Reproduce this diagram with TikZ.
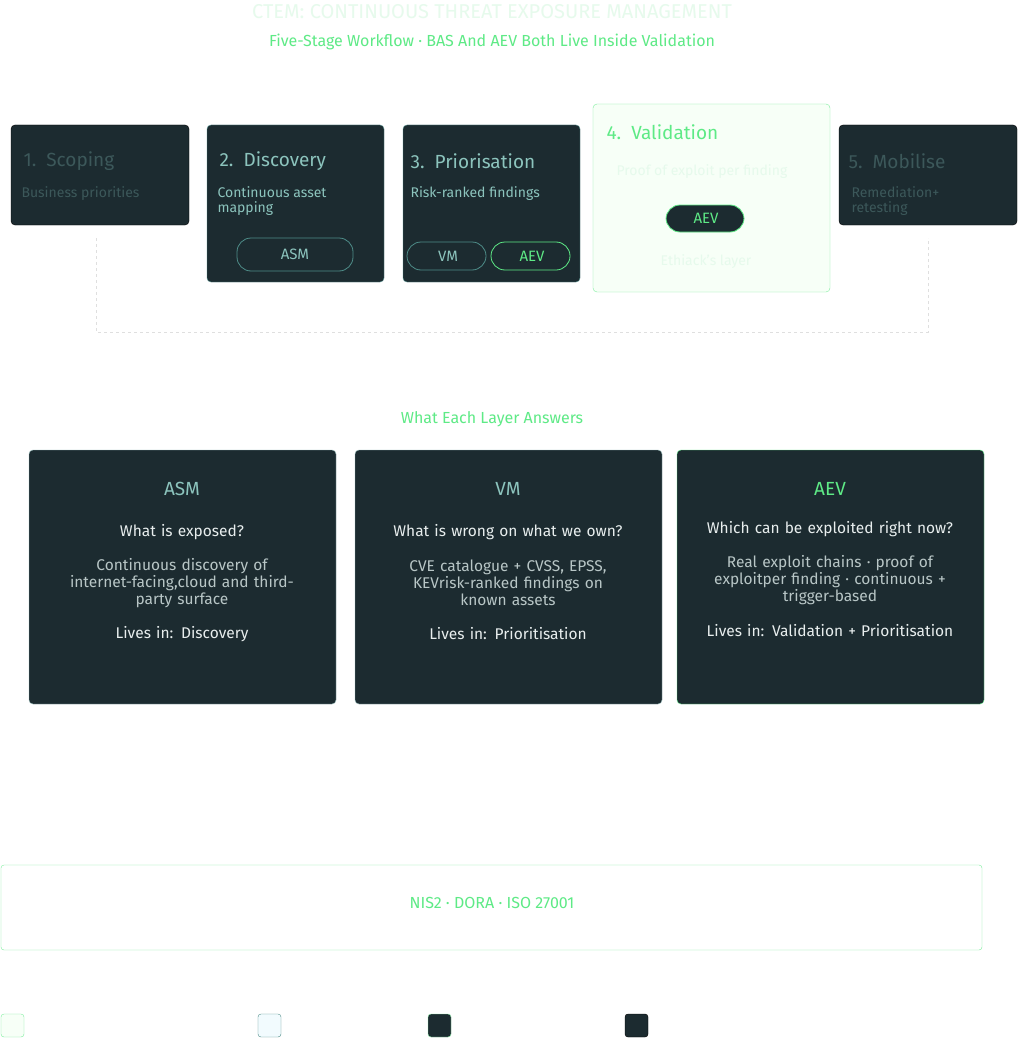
\documentclass[tikz,border=0pt]{standalone}
\usepackage{fontspec}
\setmainfont{Fira Sans}[Scale=1]
\begin{document}
\definecolor{dk}{HTML}{1C2B30}
\definecolor{tl}{HTML}{4E8C88}
\definecolor{tltx}{HTML}{8CC4BD}
\definecolor{gr}{HTML}{5EEA86}
\definecolor{faint}{HTML}{3C585A}
\definecolor{pale}{HTML}{E6FAEC}
\definecolor{wt}{HTML}{E8EEEE}
\definecolor{gy}{HTML}{B8C6C6}
\begin{tikzpicture}[x=1pt,y=-1pt,
  box/.style={rounded corners=4pt,fill=dk},
  pill/.style={rounded corners=14pt,line width=0.8pt},
  ttl/.style={anchor=west,font=\fontsize{19}{22}\selectfont},
  sub/.style={anchor=north west,align=left,font=\fontsize{14}{15}\selectfont},
  ctr/.style={align=center,text width=270pt,font=\fontsize{15.5}{17}\selectfont}]
\useasboundingbox[fill=white] (0,0) rectangle (1017,1038);
\node[text=pale,font=\fontsize{20}{22}\selectfont] (title) at (492,12) {CTEM: CONTINUOUS THREAT EXPOSURE MANAGEMENT};
\node[text=gr,font=\fontsize{16}{18}\selectfont] (subtitle) at (492,42) {Five-Stage Workflow · BAS And AEV Both Live Inside Validation};
% dashed loop
\draw[gray!25,dashed,line width=1pt] (96,238) -- (96,332) -- (928,332) -- (928,238);
% stage 1
\draw[box] (11,125) rectangle (189,225);
\node[ttl,text=faint] (s1) at (20,161) {1.\ \ Scoping};
\node[sub,text=faint] (s1d) at (18,183) {Business priorities};
% stage 2
\draw[box,draw=tl] (207,125) rectangle (384,282);
\node[ttl,text=tltx] (s2) at (216,161) {2.\ \ Discovery};
\node[sub,text=tltx] (s2d) at (214,183) {Continuous asset\\mapping};
\draw[pill,draw=tl] (237,238) rectangle (353,271);
\node[text=tltx,font=\fontsize{15}{17}\selectfont] (asm) at (295,254) {ASM};
% stage 3
\draw[box,draw=tl] (403,125) rectangle (580,282);
\node[ttl,text=tltx] (s3) at (407,161) {3.\ \ Priorisation};
\node[sub,text=tltx] (s3d) at (407,183) {Risk-ranked findings};
\draw[pill,draw=tl] (407,242) rectangle (486,270);
\node[text=tltx,font=\fontsize{15}{17}\selectfont] (vm) at (448,256) {VM};
\draw[pill,draw=gr] (491,242) rectangle (570,270);
\node[text=gr,font=\fontsize{15}{17}\selectfont] (aev3) at (532,256) {AEV};
% stage 4
\draw[rounded corners=4pt,fill=green!50!white!6,draw=gr!80] (593,104) rectangle (830,292);
\node[ttl,text=gr] (s4) at (603,132) {4.\ \ Validation};
\node[text=pale,font=\fontsize{14}{16}\selectfont] (s4d) at (702,172) {Proof of exploit per finding};
\draw[pill,fill=dk,draw=gr] (666,205) rectangle (744,232);
\node[text=gr,font=\fontsize{15}{17}\selectfont] (aev4) at (706,218) {AEV};
\node[text=pale,font=\fontsize{14}{16}\selectfont] (s4e) at (706,262) {Ethiack's layer};
% stage 5
\draw[box] (839,125) rectangle (1017,225);
\node[ttl,text=faint] (s5) at (845,161) {5.\ \ Mobilise};
\node[sub,text=faint] (s5d) at (848,183) {Remediation+\\retesting};
% section
\node[text=gr,font=\fontsize{16}{18}\selectfont] (sec) at (492,419) {What Each Layer Answers};
% cards
\draw[box,draw=tl!60] (29,450) rectangle (336,704);
\node[text=tltx,font=\fontsize{19}{22}\selectfont] (c1t) at (182,489) {ASM};
\node[ctr,text=wt] (c1q) at (182,532) {What is exposed?};
\node[ctr,text=gy] (c1d) at (182,583) {Continuous discovery of\\internet-facing,cloud and third-\\party surface};
\node[ctr,text=wt] (c1l) at (182,634) {Lives in: Discovery};
\draw[box,draw=tl!60] (355,450) rectangle (662,704);
\node[text=tltx,font=\fontsize{19}{22}\selectfont] (c2t) at (508,489) {VM};
\node[ctr,text=wt] (c2q) at (508,532) {What is wrong on what we own?};
\node[ctr,text=gy] (c2d) at (508,583) {CVE catalogue + CVSS, EPSS,\\KEVrisk-ranked findings on\\known assets};
\node[ctr,text=wt] (c2l) at (508,634) {Lives in: Prioritisation};
\draw[box,draw=gr] (677,450) rectangle (984,704);
\node[text=gr,font=\fontsize{19}{22}\selectfont] (c3t) at (830,489) {AEV};
\node[ctr,text=wt,text width=300pt] (c3q) at (830,529) {Which can be exploited right now?};
\node[ctr,text=gy] (c3d) at (830,580) {Real exploit chains · proof of\\exploitper finding · continuous +\\trigger-based};
\node[ctr,text=wt,text width=300pt] (c3l) at (830,631) {Lives in: Validation + Prioritisation};
% bottom
\draw[rounded corners=3pt,draw=gr!80] (1,865) rectangle (982,950);
\node[text=gr,font=\fontsize{16}{18}\selectfont] (reg) at (492,903) {NIS2 · DORA · ISO 27001};
% legend
\draw[rounded corners=3pt,fill=green!50!white!6,draw=gr!80] (1,1014) rectangle (24,1037);
\draw[rounded corners=3pt,fill=cyan!20!white!25,draw=tl] (258,1014) rectangle (281,1037);
\draw[rounded corners=3pt,fill=dk,draw=gr!70] (428,1014) rectangle (451,1037);
\draw[rounded corners=3pt,fill=dk] (625,1014) rectangle (648,1037);
\end{tikzpicture}
\end{document}
